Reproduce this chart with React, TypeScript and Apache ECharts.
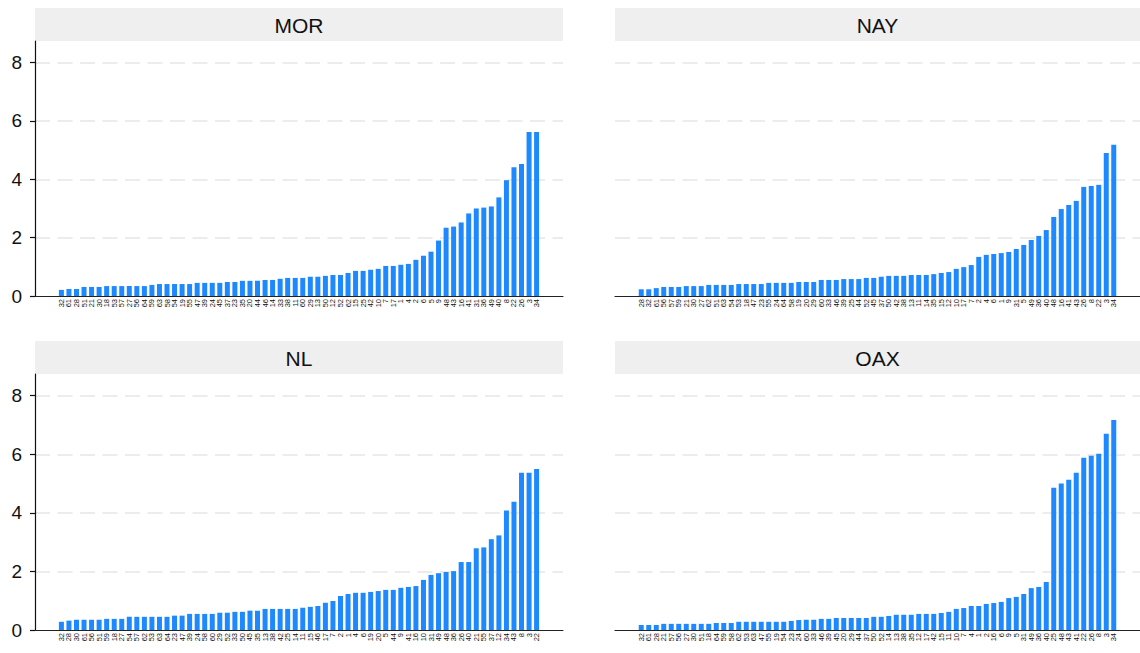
import React, { useEffect, useRef } from "react";
import * as echarts from "echarts";

const panelTitles = ["MOR", "NAY", "NL", "OAX"];

const morLabels = ["32","61","28","51","21","30","18","53","57","27","56","64","59","63","58","54","19","55","47","39","24","45","37","23","35","20","44","46","14","33","38","11","60","29","13","50","12","52","62","15","25","42","10","7","17","1","4","2","6","5","9","48","43","16","41","31","36","49","40","8","22","26","3","34"];
const morValues = [0.21,0.24,0.24,0.31,0.31,0.31,0.34,0.34,0.34,0.34,0.34,0.34,0.38,0.41,0.41,0.41,0.41,0.41,0.45,0.45,0.45,0.45,0.48,0.48,0.52,0.52,0.52,0.55,0.55,0.59,0.62,0.62,0.62,0.66,0.66,0.69,0.72,0.72,0.79,0.86,0.86,0.9,0.93,1.03,1.03,1.07,1.1,1.24,1.38,1.52,1.9,2.34,2.38,2.52,2.83,3.0,3.03,3.07,3.38,3.97,4.41,4.52,5.62,5.62];

const nayLabels = ["28","32","61","56","57","59","21","30","27","62","51","63","54","53","18","47","23","55","24","64","58","19","20","29","60","33","46","39","25","44","52","45","37","50","42","38","13","11","14","35","15","12","10","17","7","2","4","6","1","9","31","5","49","36","40","48","16","41","43","26","8","22","3","34"];
const nayValues = [0.23,0.23,0.27,0.31,0.31,0.31,0.34,0.34,0.34,0.38,0.38,0.38,0.38,0.41,0.41,0.41,0.41,0.45,0.45,0.45,0.45,0.48,0.48,0.48,0.55,0.55,0.55,0.58,0.58,0.58,0.62,0.62,0.66,0.69,0.69,0.69,0.72,0.72,0.72,0.75,0.79,0.82,0.93,0.99,1.06,1.34,1.41,1.44,1.47,1.51,1.61,1.75,1.92,2.06,2.26,2.71,2.98,3.12,3.26,3.74,3.77,3.81,4.9,5.18];

const nlLabels = ["32","28","30","61","56","51","59","18","27","54","57","62","53","63","64","23","47","39","24","58","60","29","52","33","50","45","35","13","38","42","25","14","11","15","46","17","7","2","1","4","6","19","20","5","44","9","41","16","10","31","49","48","36","26","40","21","55","37","12","34","43","8","3","22"];
const nlValues = [0.28,0.32,0.35,0.35,0.35,0.35,0.38,0.38,0.38,0.45,0.45,0.45,0.45,0.45,0.45,0.49,0.49,0.55,0.55,0.55,0.55,0.59,0.59,0.62,0.62,0.66,0.66,0.72,0.72,0.72,0.72,0.72,0.76,0.79,0.82,0.93,0.99,1.16,1.23,1.27,1.27,1.3,1.33,1.37,1.37,1.44,1.47,1.5,1.71,1.88,1.94,1.98,2.01,2.32,2.32,2.79,2.82,3.1,3.23,4.08,4.38,5.37,5.37,5.5];

const oaxLabels = ["32","61","28","21","57","56","27","30","51","18","64","59","58","62","53","63","47","55","19","54","23","24","60","33","46","39","45","20","29","44","37","50","52","14","13","38","35","12","17","42","15","11","10","7","4","1","2","16","6","9","5","31","49","36","40","25","48","43","41","22","26","8","3","34"];
const oaxValues = [0.17,0.17,0.17,0.21,0.21,0.21,0.21,0.21,0.21,0.21,0.24,0.24,0.24,0.28,0.28,0.28,0.28,0.28,0.28,0.28,0.31,0.34,0.35,0.35,0.38,0.38,0.41,0.41,0.41,0.41,0.41,0.45,0.45,0.48,0.52,0.52,0.52,0.55,0.55,0.55,0.58,0.62,0.72,0.75,0.82,0.82,0.89,0.92,0.96,1.09,1.13,1.23,1.43,1.47,1.64,4.86,5.0,5.13,5.37,5.88,5.95,6.02,6.7,7.17];

const yTicks = [0, 2, 4, 6, 8];

const panelLabels = [morLabels, nayLabels, nlLabels, oaxLabels];
const panelValues = [morValues, nayValues, nlValues, oaxValues];

const PAD = 3;
const FONT = "'Liberation Sans', Arial, Helvetica, sans-serif";

const layouts = [
  { left: 35, top: 41, width: 528, height: 255, headTop: 8, yAxisShow: true },
  { left: 615, top: 41, width: 525, height: 255, headTop: 8, yAxisShow: false },
  { left: 35, top: 374, width: 528, height: 256, headTop: 341, yAxisShow: true },
  { left: 615, top: 374, width: 525, height: 256, headTop: 341, yAxisShow: false },
];

export default function App() {
  const ref = useRef<HTMLDivElement>(null);
  useEffect(() => {
    if (!ref.current) return;
    const chart = echarts.init(ref.current, null, { renderer: "svg" });
    const pad = (arr: any[], fill: any) => [
      ...Array(PAD).fill(fill),
      ...arr,
      ...Array(PAD).fill(fill),
    ];
    const grids: any[] = [];
    const xAxes: any[] = [];
    const yAxes: any[] = [];
    const series: any[] = [];
    const graphics: any[] = [];
    layouts.forEach((l, i) => {
      grids.push({ left: l.left, top: l.top, width: l.width, height: l.height, containLabel: false });
      xAxes.push({
        type: "category",
        gridIndex: i,
        data: pad(panelLabels[i], ""),
        boundaryGap: true,
        axisLine: { show: true, lineStyle: { color: "#222", width: 1.2 } },
        axisTick: { show: false },
        axisLabel: {
          interval: 0,
          rotate: 90,
          fontSize: 7.5,
          margin: 3,
          color: "#111",
          fontFamily: FONT,
        },
        splitLine: { show: false },
      });
      yAxes.push({
        type: "value",
        gridIndex: i,
        min: 0,
        max: 8.74,
        interval: 2,
        axisLine: { show: l.yAxisShow, lineStyle: { color: "#111", width: 1.2 } },
        axisTick: { show: l.yAxisShow, length: 5, lineStyle: { color: "#111", width: 1.2 } },
        axisLabel: {
          show: l.yAxisShow,
          fontSize: 19,
          margin: 13,
          color: "#111",
          fontFamily: FONT,
          showMaxLabel: false,
          formatter: (v: number) => (yTicks.includes(v) ? String(v) : ""),
        },
        splitLine: {
          show: true,
          showMinLine: false,
          showMaxLine: false,
          lineStyle: { color: "#ececec", width: 2, type: [15, 7.5] },
        },
      });
      series.push({
        type: "bar",
        xAxisIndex: i,
        yAxisIndex: i,
        data: pad(panelValues[i], null),
        barWidth: 5,
        itemStyle: { color: "#1e88ff" },
        silent: true,
      });
      graphics.push({
        type: "rect",
        shape: { x: l.left, y: l.headTop, width: l.width, height: l.top - l.headTop },
        style: { fill: "#efefef" },
      });
      graphics.push({
        type: "text",
        x: l.left + l.width / 2,
        y: l.headTop + (l.top - l.headTop) / 2 + 1,
        style: {
          text: panelTitles[i],
          fontSize: 21,
          fontFamily: FONT,
          fill: "#111",
          align: "center",
          verticalAlign: "middle",
        },
      });
    });
    chart.setOption({
      animation: false,
      backgroundColor: "#ffffff",
      grid: grids,
      xAxis: xAxes,
      yAxis: yAxes,
      series,
      graphic: graphics,
    });
    return () => chart.dispose();
  }, []);
  return (
    <div
      ref={ref}
      style={{ position: "fixed", left: 0, top: 0, width: 1140, height: 653, background: "#fff" }}
    />
  );
}
